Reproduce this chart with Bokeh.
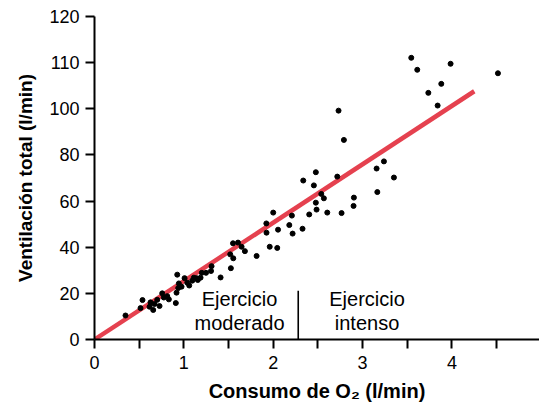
from bokeh.plotting import figure
from bokeh.models import Range1d, FixedTicker, Label
from bokeh.embed import file_html
from bokeh.resources import INLINE

# Data (O2 consumption l/min, total ventilation on the drawn axis scale)
vo2 = [3.545, 3.612, 3.985, 4.515, 3.881, 3.736, 3.840, 2.731, 2.791, 3.239,
       3.157, 3.351, 3.165, 2.903, 2.899, 2.477, 2.717, 2.336, 2.455, 2.538,
       2.567, 2.477, 2.485, 2.000, 2.209, 2.403, 2.605, 2.765, 1.923, 2.180,
       2.054, 2.328, 1.925, 2.217, 1.961, 2.045, 1.814, 1.550, 1.606, 1.646,
       1.683, 1.519, 1.553, 1.526, 1.411, 1.310, 1.304, 1.248, 1.201, 1.187,
       1.142, 1.112, 1.094, 1.060, 1.156, 1.008, 1.038, 0.974, 0.944, 0.937,
       0.926, 0.918, 0.910, 0.832, 0.814, 0.776, 0.758, 0.728, 0.702, 0.672,
       0.657, 0.627, 0.616, 0.537, 0.515, 0.347]
ve = [122.1, 116.9, 119.5, 115.4, 110.8, 106.9, 101.4, 99.2, 86.5, 77.2,
      74.1, 70.2, 63.9, 61.5, 57.9, 72.5, 70.6, 68.9, 66.8, 63.1,
      61.2, 59.3, 56.3, 55.0, 53.7, 54.2, 55.0, 54.8, 50.3, 49.6,
      47.6, 48.0, 46.3, 45.9, 40.2, 39.7, 36.2, 41.7, 42.0, 40.2,
      38.3, 36.9, 35.2, 30.9, 26.9, 31.8, 29.7, 28.9, 28.9, 26.8,
      26.6, 26.8, 25.5, 23.4, 25.8, 26.6, 24.6, 22.9, 24.3, 22.3,
      28.1, 20.3, 15.8, 17.4, 18.8, 18.2, 20.0, 14.5, 17.2, 15.4,
      12.8, 16.1, 14.2, 17.1, 13.6, 10.4]

fit_x = [0.0, 4.25]
fit_y = [0.0, 107.6]

divider_x = [2.28, 2.28]
divider_y = [0.0, 21.1]

x_ticks = [0, 0.5, 1, 1.5, 2, 2.5, 3, 3.5, 4, 4.5]
x_labels = {0: "0", 1: "1", 2: "2", 3: "3", 4: "4"}
y_ticks = [0, 20, 40, 60, 80, 100, 120, 140]
y_labels = ["0", "20", "40", "60", "80", "100", "110", "120"]

FONT = "Liberation Sans"

p = figure(width=539, height=409, output_backend="svg", toolbar_location=None,
           x_range=Range1d(0, 4.98), y_range=Range1d(0, 140),
           min_border_left=94, min_border_right=0, min_border_top=16,
           min_border_bottom=70)
p.outline_line_color = None
p.grid.visible = False
p.background_fill_color = "white"

p.line(fit_x, fit_y, line_color="#e5414f", line_width=4.5)
p.scatter(vo2, ve, size=5, color="black")
p.line(divider_x, divider_y, line_color="black", line_width=1.6)

for ax in (p.xaxis[0], p.yaxis[0]):
    ax.axis_line_width = 2
    ax.major_tick_line_width = 2
    ax.major_tick_in = 0
    ax.major_tick_out = 9
    ax.minor_tick_line_color = None
    ax.major_label_text_font = FONT
    ax.major_label_text_font_size = "18px"
    ax.major_label_text_color = "black"
    ax.axis_label_text_font = FONT
    ax.axis_label_text_font_style = "bold"
    ax.axis_label_text_font_size = "19px"
    ax.axis_label_text_color = "black"

p.xaxis.ticker = FixedTicker(ticks=x_ticks)
p.xaxis.major_label_overrides = {t: x_labels.get(t, "") for t in x_ticks}
p.xaxis.major_label_standoff = 7
p.xaxis.axis_label = "Consumo de O\u2082 (l/min)"
p.xaxis.axis_label_standoff = 8
p.xaxis.axis_label_text_font_size = "20px"

p.yaxis.ticker = FixedTicker(ticks=y_ticks)
p.yaxis.major_label_overrides = {t: l for t, l in zip(y_ticks, y_labels)}
p.yaxis.major_label_standoff = 6
p.yaxis.axis_label = "Ventilación total (l/min)"
p.yaxis.axis_label_standoff = 10

for txt, x, y in [("Ejercicio", 1.623, 17.7), ("moderado", 1.623, 7.2),
                  ("Ejercicio", 3.05, 17.7), ("intenso", 3.05, 7.2)]:
    p.add_layout(Label(x=x, y=y, text=txt, text_align="center",
                       text_baseline="middle", text_font=FONT,
                       text_font_size="20px", text_color="black"))

open("out.html", "w").write(file_html(p, INLINE))
